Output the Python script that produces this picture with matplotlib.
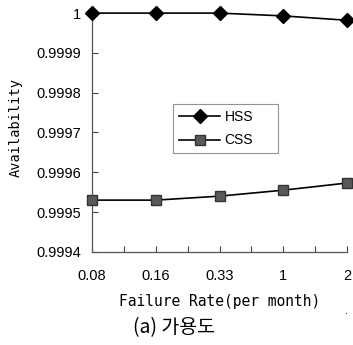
import matplotlib.pyplot as plt

# ── data ──────────────────────────────────────────────
rates = ["0.08", "0.16", "0.33", "1", "2"]
hss = [1.0, 1.0, 1.0, 0.999993, 0.999982]
css = [0.99953, 0.99953, 0.99954, 0.999555, 0.999573]
yticks = [0.9994, 0.9995, 0.9996, 0.9997, 0.9998, 0.9999, 1.0]
ytick_labels = ["0.9994", "0.9995", "0.9996", "0.9997", "0.9998", "0.9999", "1"]

plt.rcParams["font.family"] = ["Liberation Sans", "DejaVu Sans"]

fig = plt.figure(figsize=(3.53, 3.45), dpi=100)
ax = fig.add_axes([0.261, 0.270, 0.722, 0.692])

x = list(range(len(rates)))
ax.plot(x, hss, color="black", lw=1.2, marker="D", ms=7.5,
        mfc="black", mec="black", label="HSS", clip_on=False, zorder=3)
ax.plot(x, css, color="black", lw=1.2, marker="s", ms=7,
        mfc="#5a5a5a", mec="#333333", label="CSS", clip_on=False, zorder=3)

ax.set_xlim(0, len(rates) - 1)
ax.set_ylim(0.9994, 1.0)
ax.set_xticks(x)
ax.set_xticklabels(rates, fontsize=10.5)
ax.set_xticks([i + 0.5 for i in x[:-1]], minor=True)
ax.set_yticks(yticks)
ax.set_yticklabels(ytick_labels, fontsize=10.5)
ax.tick_params(axis="both", which="both", direction="in", length=4, width=0.8, color="#444444")
ax.tick_params(axis="x", pad=12)
ax.tick_params(axis="y", pad=8)

for side in ["top", "right"]:
    ax.spines[side].set_visible(False)
for side in ["left", "bottom"]:
    ax.spines[side].set_color("#555555")
    ax.spines[side].set_linewidth(0.9)

ax.set_xlabel("Failure Rate(per month)", family="DejaVu Sans Mono", fontsize=10.5)
ax.xaxis.label.set_va("center")
ax.xaxis.set_label_coords(0.5, -0.209)
ax.set_ylabel("Availability", family="DejaVu Sans Mono", fontsize=9.8)
ax.yaxis.label.set_va("center")
ax.yaxis.set_label_coords(-0.30, 0.52)

leg = ax.legend(loc="lower left", bbox_to_anchor=(0.318, 0.414, 0.41, 0.213), mode="expand",
                fontsize=10, frameon=True, fancybox=False, handlelength=3.0, borderpad=0.4,
                labelspacing=0.7, handletextpad=0.3, borderaxespad=0)
leg.get_frame().set_edgecolor("#777777")
leg.get_frame().set_linewidth(0.8)

fig.text(174 / 353, 1 - 328 / 345, "(a) 가용도", ha="center", va="center", fontsize=14,
         family=["Noto Sans CJK KR", "DejaVu Sans"])
fig.text(0.983, 0.10, ".", ha="center", va="center", fontsize=8)

fig.savefig("out.png", dpi=100)
